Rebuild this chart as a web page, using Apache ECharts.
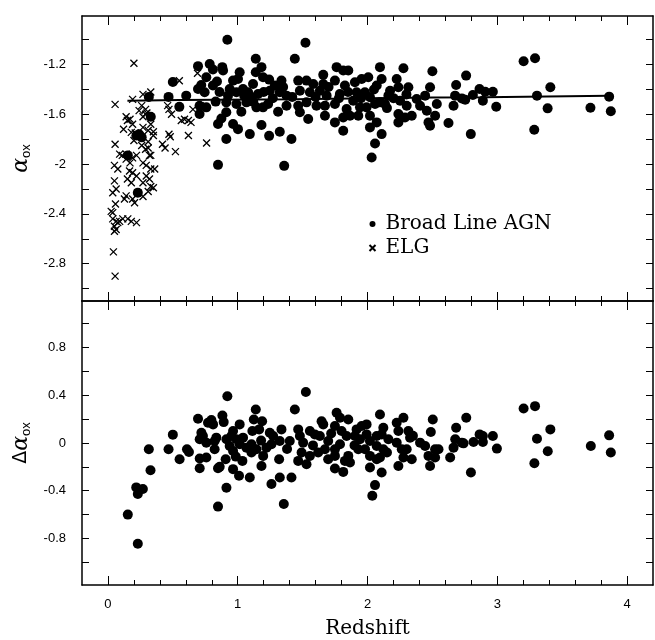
<!DOCTYPE html>
<html><head><meta charset="utf-8">
<script src="https://cdn.jsdelivr.net/npm/echarts@6/dist/echarts.min.js"></script>
<style>html,body{margin:0;padding:0;background:#fff}#c{width:655px;height:640px}</style>
</head><body><div id="c"></div>
<script>
// ---- tick labels / tick positions ----
const xTickLabels = [0, 1, 2, 3, 4];
const xMinorTicks = [0.2, 0.4, 0.6, 0.8, 1.2, 1.4, 1.6, 1.8, 2.2, 2.4, 2.6, 2.8, 3.2, 3.4, 3.6, 3.8, 4.0];
const topYLabels = [-2.8, -2.4, -2, -1.6, -1.2];
const topYTicks = [-3, -2.8, -2.6, -2.4, -2.2, -2, -1.8, -1.6, -1.4, -1.2, -1];
const botYLabels = [-0.8, -0.4, 0, 0.4, 0.8];
const botYTicks = [-1, -0.8, -0.6, -0.4, -0.2, 0, 0.2, 0.4, 0.6, 0.8, 1];

// ---- top panel: alpha_ox vs redshift, broad line AGN ----
const agnTop = [
[0.92,-1.001],[1.522,-1.025],[1.44,-1.154],[1.139,-1.154],[0.694,-1.213],[0.784,-1.195],[0.809,-1.24],[0.881,-1.221],
[0.887,-1.248],[1.015,-1.262],[1.183,-1.221],[1.139,-1.262],[1.195,-1.302],[0.758,-1.302],[0.719,-1.364],[0.809,-1.369],
[0.84,-1.337],[0.694,-1.396],[0.745,-1.423],[0.964,-1.329],[1.002,-1.316],[0.938,-1.396],[0.925,-1.45],[0.99,-1.423],
[1.041,-1.396],[1.08,-1.423],[1.118,-1.356],[1.105,-1.463],[1.157,-1.437],[1.242,-1.321],[1.286,-1.369],[1.337,-1.329],
[1.247,-1.41],[1.324,-1.423],[1.376,-1.45],[1.466,-1.329],[1.53,-1.329],[1.582,-1.356],[1.659,-1.283],[1.479,-1.41],
[1.556,-1.423],[1.633,-1.41],[1.685,-1.45],[1.466,-1.531],[1.53,-1.504],[1.607,-1.531],[1.672,-1.611],[1.543,-1.638],
[1.479,-1.584],[0.603,-1.45],[0.706,-1.531],[0.758,-1.544],[0.706,-1.598],[0.83,-1.498],[0.912,-1.504],[0.99,-1.517],
[1.028,-1.579],[0.912,-1.584],[0.874,-1.633],[0.848,-1.678],[0.964,-1.678],[1.002,-1.719],[1.093,-1.759],[1.183,-1.686],
[1.242,-1.773],[1.324,-1.74],[1.414,-1.799],[0.912,-1.799],[0.848,-2.006],[1.358,-2.014],[1.144,-1.544],[1.195,-1.544],
[1.234,-1.517],[1.311,-1.579],[1.067,-1.504],[1.376,-1.531],
[0.315,-1.46],[0.467,-1.46],[0.50,-1.34],[0.33,-1.62],[0.22,-1.77],[0.26,-1.785],[0.24,-1.76],[0.153,-1.93],[0.23,-2.23],[0.55,-1.54],
[1.659,-1.356],[1.672,-1.531],[1.749,-1.665],[1.762,-1.221],[1.813,-1.248],[1.852,-1.248],[1.749,-1.329],[1.826,-1.369],
[1.787,-1.437],[1.749,-1.517],[1.839,-1.558],[1.813,-1.625],[1.813,-1.732],[1.903,-1.343],[1.955,-1.316],[2.006,-1.302],
[1.916,-1.423],[1.89,-1.49],[1.865,-1.611],[1.929,-1.611],[1.98,-1.423],[2.019,-1.463],[1.993,-1.544],[2.058,-1.517],
[2.019,-1.611],[2.096,-1.221],[2.109,-1.316],[2.071,-1.369],[2.096,-1.504],[2.071,-1.665],[2.019,-1.705],[2.109,-1.759],
[2.058,-1.834],[2.032,-1.947],[2.161,-1.45],[2.225,-1.316],[2.238,-1.383],[2.277,-1.23],[2.315,-1.383],[2.251,-1.49],
[2.302,-1.531],[2.238,-1.598],[2.238,-1.665],[2.289,-1.625],[2.341,-1.611],[2.379,-1.477],[2.405,-1.531],[2.444,-1.45],
[2.482,-1.383],[2.5,-1.254],[2.457,-1.571],[2.47,-1.665],[2.482,-1.692],[2.534,-1.517],[2.521,-1.611],[2.624,-1.67],
[2.675,-1.45],[2.683,-1.364],[2.663,-1.531],[2.174,-1.41],[2.135,-1.517],[1.942,-1.544],
[2.76,-1.289],[2.727,-1.472],[2.753,-1.482],[2.812,-1.445],[2.863,-1.396],[2.907,-1.418],[2.966,-1.418],[2.889,-1.49],
[2.992,-1.539],[2.796,-1.759],[3.203,-1.173],[3.291,-1.149],[3.306,-1.45],[3.409,-1.383],[3.388,-1.552],[3.285,-1.724],
[3.718,-1.547],[3.862,-1.458],[3.875,-1.576],
[1.05,-1.45],[1.12,-1.50],[1.20,-1.42],[1.27,-1.47],[1.35,-1.38],[1.42,-1.46],[1.60,-1.46],[1.70,-1.38],
[1.78,-1.47],[1.85,-1.42],[1.95,-1.47],[2.05,-1.40],[2.15,-1.55],[2.20,-1.47],[2.30,-1.44],[0.86,-1.42]
];

// ---- top panel: emission line galaxies ----
const elgTop = [
[0.20,-1.19],[0.055,-1.52],[0.55,-1.33],[0.27,-1.44],[0.33,-1.42],[0.19,-1.48],[0.69,-1.27],[0.055,-1.84],
[0.14,-1.62],[0.17,-1.64],[0.19,-1.68],[0.15,-1.65],[0.24,-1.57],[0.27,-1.62],[0.29,-1.60],[0.26,-1.53],
[0.47,-1.56],[0.49,-1.60],[0.46,-1.53],[0.565,-1.65],[0.62,-1.65],[0.64,-1.665],[0.59,-1.64],[0.655,-1.56],
[0.71,-1.53],[0.62,-1.77],[0.47,-1.76],[0.48,-1.78],[0.42,-1.84],[0.44,-1.87],[0.52,-1.90],[0.76,-1.83],
[0.36,-2.04],[0.09,-1.92],[0.11,-1.93],[0.14,-1.96],[0.17,-1.99],[0.19,-1.95],[0.22,-1.93],[0.05,-2.01],
[0.076,-2.04],[0.166,-2.055],[0.19,-2.07],[0.22,-2.095],[0.15,-2.12],[0.18,-2.15],[0.27,-1.99],[0.295,-2.01],
[0.32,-1.93],[0.33,-2.04],[0.295,-2.095],[0.32,-2.12],[0.33,-2.18],[0.27,-2.15],[0.05,-2.135],[0.037,-2.23],
[0.063,-2.20],[0.14,-2.255],[0.127,-2.28],[0.205,-2.31],[0.19,-2.28],[0.23,-2.23],[0.27,-2.26],[0.31,-2.22],
[0.35,-2.19],[0.058,-2.32],[0.025,-2.38],[0.037,-2.39],[0.037,-2.44],[0.063,-2.46],[0.09,-2.46],[0.05,-2.50],
[0.076,-2.47],[0.05,-2.54],[0.063,-2.525],[0.114,-2.44],[0.153,-2.44],[0.18,-2.46],[0.22,-2.47],[0.042,-2.705],
[0.055,-2.90],[0.29,-1.56],[0.30,-1.59],[0.33,-1.68],[0.35,-1.74],[0.26,-1.85],[0.29,-1.88],[0.31,-1.82],
[0.21,-1.75],[0.18,-1.745],[0.20,-1.81],[0.12,-1.72],[0.14,-1.92],[0.27,-1.705],[0.31,-1.73],[0.35,-1.77],
[0.31,-1.87],[0.33,-1.93]
];

// ---- top panel: mean relation ----
const fitLine = [[0.15,-1.49],[0.55,-1.485],[1.45,-1.478],[2.0,-1.47],[2.5,-1.465],[2.9,-1.462],[3.86,-1.45]];

// ---- bottom panel: delta alpha_ox vs redshift ----
const agnResid = [
[0.23,-0.844],[0.153,-0.60],[0.218,-0.372],[0.269,-0.386],[0.23,-0.428],[0.328,-0.228],[0.315,-0.053],[0.467,-0.053],
[0.50,0.07],[0.552,-0.136],[0.609,-0.053],[0.624,-0.075],[0.694,0.203],[0.707,0.031],[0.732,0.058],[0.72,0.086],
[0.707,-0.13],[0.758,-0.122],[0.707,-0.211],[0.771,0.17],[0.797,0.192],[0.81,0.156],[0.758,0.003],[0.822,0.017],
[0.835,0.045],[0.848,-0.211],[0.861,-0.20],[0.822,-0.053],[0.882,0.231],[0.892,0.175],[0.92,0.392],[0.907,-0.136],
[0.913,0.031],[0.938,-0.025],[0.951,0.058],[0.964,0.1],[1.015,0.156],[0.99,0.031],[1.015,-0.011],[0.964,-0.067],
[1.041,0.045],[0.913,-0.375],[0.848,-0.533],[0.964,-0.219],[1.01,-0.275],[0.985,-0.114],[1.036,-0.15],[1.093,-0.289],
[1.067,-0.039],[1.106,-0.011],[1.106,-0.08],[1.139,0.281],[1.124,0.197],[1.188,0.183],[1.113,0.1],[1.165,0.114],
[1.144,-0.053],[1.196,-0.108],[1.221,-0.039],[1.183,-0.192],
[1.525,0.428],[1.44,0.281],[1.355,-0.511],[1.324,-0.289],[1.414,-0.289],[1.319,-0.136],[1.26,-0.344],[1.247,0.086],
[1.273,0.058],[1.337,0.114],[1.324,0.017],[1.26,-0.011],[1.401,0.017],[1.466,0.114],[1.479,0.058],[1.504,0.003],
[1.556,0.1],[1.594,0.072],[1.492,-0.08],[1.466,-0.15],[1.53,-0.178],[1.556,-0.108],[1.646,0.183],[1.659,0.156],
[1.633,0.058],[1.697,0.017],[1.672,-0.053],[1.62,-0.08],[1.697,-0.136],[1.749,-0.108],[1.762,0.253],[1.788,0.211],
[1.852,0.197],[1.749,0.142],[1.8,0.1],[1.839,0.058],[1.788,-0.011],[1.749,-0.053],[1.852,-0.108],[1.826,-0.15],
[1.865,-0.164],[1.749,-0.214],[1.813,-0.242],[1.916,0.114],[1.955,0.142],[1.993,0.156],[1.903,0.058],[1.942,0.031],
[1.993,0.072],[2.019,0.017],[2.071,0.058],[1.929,-0.053],[1.981,-0.053],[2.019,-0.108],[2.071,-0.136],[2.019,-0.205],
[2.096,0.239],[2.122,0.128],[2.109,0.072],[2.071,-0.025],[2.122,-0.053],[2.096,-0.122],[2.109,-0.247],[2.058,-0.353],
[2.037,-0.442],[2.161,0.031],[2.225,0.17],[2.277,0.211],[2.238,0.1],[2.225,0.003],[2.264,-0.053],[2.315,0.1],
[2.328,0.045],[2.302,-0.053],[2.341,-0.136],[2.238,-0.192],[2.277,-0.122],[2.405,0.003],[2.444,-0.025],[2.47,-0.108],
[2.521,-0.053],[2.547,-0.053],[2.521,-0.122],[2.482,-0.192],[2.503,0.197],[2.488,0.092],
[2.761,0.211],[2.683,0.128],[2.676,0.031],[2.663,-0.039],[2.637,-0.122],[2.727,0.003],[2.74,-0.003],[2.817,0.009],
[2.864,0.072],[2.889,0.059],[2.889,0.009],[2.966,0.059],[2.997,-0.047],[2.797,-0.247],[3.203,0.289],[3.291,0.309],
[3.409,0.114],[3.306,0.036],[3.389,-0.069],[3.286,-0.169],[3.721,-0.025],[3.862,0.064],[3.875,-0.08],
[1.58,-0.02],[1.72,0.08],[1.90,-0.02],[2.15,-0.08],[2.35,0.06],[1.38,-0.05],[1.18,0.02]
];

const crossPath = 'path://M0,0L10,10M10,0L0,10';
const tickFont = {fontFamily: 'Liberation Sans, Arial, sans-serif', fontSize: 13, color: '#000'};

function xAx(grid, pos, ticks, len, showLine, labelVals, extra) {
  return Object.assign({
    type: 'value', gridIndex: grid, position: pos, min: -0.2, max: 4.2,
    axisLine: {show: showLine, onZero: false, lineStyle: {color: '#000', width: 1.5}},
    axisTick: {show: true, inside: true, length: len, customValues: ticks, lineStyle: {color: '#000', width: 1}},
    axisLabel: labelVals ? Object.assign({show: true, customValues: labelVals, margin: 13}, tickFont) : {show: false},
    splitLine: {show: false}
  }, extra || {});
}
function yAx(grid, pos, min, max, ticks, labelVals, extra) {
  return Object.assign({
    type: 'value', gridIndex: grid, position: pos, min: min, max: max,
    axisLine: {show: true, onZero: false, lineStyle: {color: '#000', width: 1.5}},
    axisTick: {show: true, inside: true, length: 7, customValues: ticks, lineStyle: {color: '#000', width: 1}},
    axisLabel: labelVals ? Object.assign({show: true, customValues: labelVals, margin: 16}, tickFont) : {show: false},
    splitLine: {show: false}
  }, extra || {});
}
const nameRich = {
  a: {fontFamily: 'DejaVu Serif', fontStyle: 'italic', fontSize: 22, color: '#000'},
  d: {fontFamily: 'DejaVu Sans', fontSize: 19, color: '#000'},
  s: {fontFamily: 'Liberation Sans, Arial, sans-serif', fontSize: 13, color: '#000', padding: [10, 0, 0, 0]}
};

const chart = echarts.init(document.getElementById('c'), null, {renderer: 'canvas'});
chart.setOption({
  animation: false,
  backgroundColor: '#fff',
  grid: [
    {left: 82, right: 2, top: 16, height: 285},
    {left: 82, right: 2, top: 301, height: 285}
  ],
  xAxis: [
    xAx(0, 'bottom', xTickLabels, 9, true, null),
    xAx(0, 'bottom', xMinorTicks, 5, false, null),
    xAx(0, 'top', xTickLabels, 9, true, null),
    xAx(0, 'top', xMinorTicks, 5, false, null),
    xAx(1, 'bottom', xTickLabels, 9, true, xTickLabels, {
      name: 'Redshift', nameLocation: 'middle', nameGap: 34,
      nameTextStyle: {fontFamily: 'DejaVu Serif', fontSize: 20, color: '#000'}
    }),
    xAx(1, 'bottom', xMinorTicks, 5, false, null),
    xAx(1, 'top', xTickLabels, 9, true, null),
    xAx(1, 'top', xMinorTicks, 5, false, null)
  ],
  yAxis: [
    yAx(0, 'left', -3.1, -0.81, topYTicks, topYLabels, {
      name: '{a|α}{s|ox}', nameLocation: 'middle', nameGap: 44, nameRotate: 90,
      nameTextStyle: {rich: nameRich}
    }),
    yAx(0, 'right', -3.1, -0.81, topYTicks, null),
    yAx(1, 'left', -1.19, 1.19, botYTicks, botYLabels, {
      name: '{d|Δ}{a|α}{s|ox}', nameLocation: 'middle', nameGap: 44, nameRotate: 90,
      nameTextStyle: {rich: nameRich}
    }),
    yAx(1, 'right', -1.19, 1.19, botYTicks, null)
  ],
  legend: {
    data: [{name: 'Broad Line AGN', icon: 'circle'}, {name: 'ELG', icon: crossPath}],
    orient: 'vertical', left: 362, top: 209, itemWidth: 16, itemHeight: 6, itemGap: 4,
    selectedMode: false,
    textStyle: {fontFamily: 'DejaVu Serif', fontSize: 20, color: '#000'}
  },
  series: [
    {name: 'ELG', type: 'scatter', xAxisIndex: 0, yAxisIndex: 0, data: elgTop,
     symbol: crossPath, symbolSize: 7, z: 3,
     itemStyle: {color: 'none', borderColor: '#000', borderWidth: 1.3, opacity: 1}},
    {name: 'Broad Line AGN', type: 'scatter', xAxisIndex: 0, yAxisIndex: 0, data: agnTop,
     symbol: 'circle', symbolSize: 10, z: 4, itemStyle: {color: '#000', opacity: 1}},
    {name: 'fit', type: 'line', xAxisIndex: 0, yAxisIndex: 0, data: fitLine,
     showSymbol: false, symbol: 'none', z: 5, lineStyle: {color: '#000', width: 2}},
    {name: 'residual', type: 'scatter', xAxisIndex: 4, yAxisIndex: 2, data: agnResid,
     symbol: 'circle', symbolSize: 10, z: 4, itemStyle: {color: '#000', opacity: 1}}
  ]
});
</script>
</body></html>
